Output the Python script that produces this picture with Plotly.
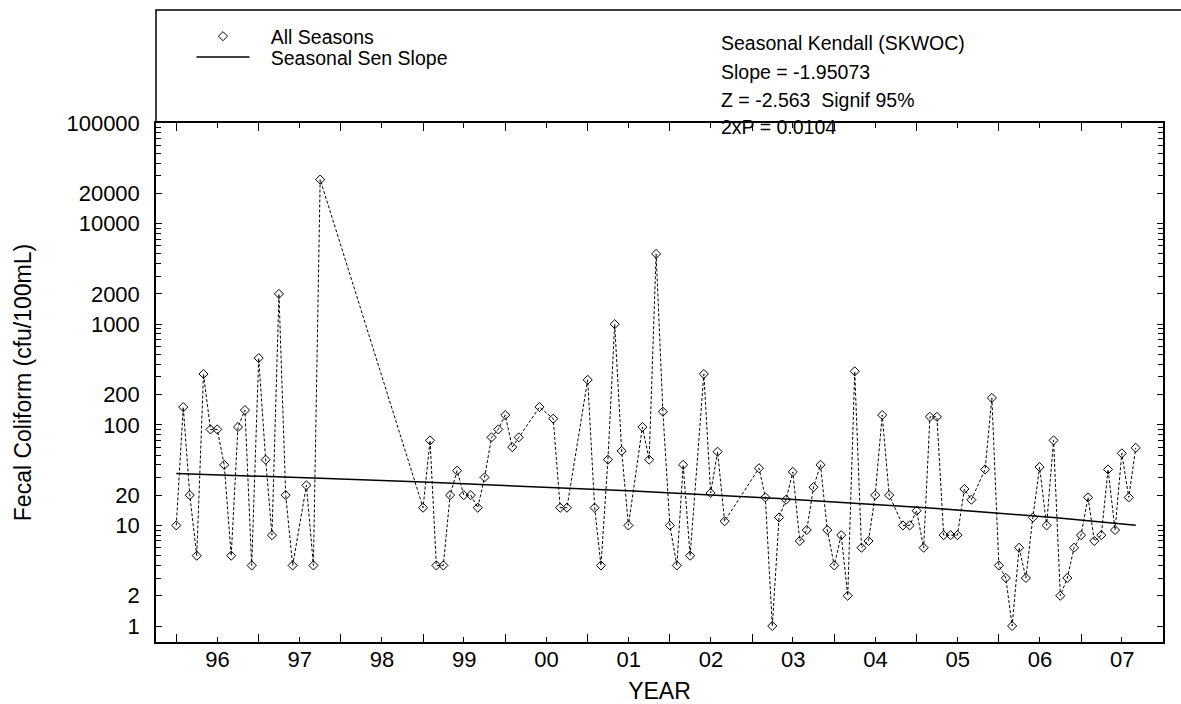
import plotly.graph_objects as go

# ---- data ----
sample_dates = [
    "1996-01-01", "1996-02-01", "1996-03-01", "1996-04-01", "1996-05-01", "1996-06-01",
    "1996-07-01", "1996-08-01", "1996-09-01", "1996-10-01", "1996-11-01", "1996-12-01",
    "1997-01-01", "1997-02-01", "1997-03-01", "1997-04-01", "1997-05-01", "1997-06-01",
    "1997-08-01", "1997-09-01", "1997-10-01",
    "1999-01-01", "1999-02-01", "1999-03-01", "1999-04-01", "1999-05-01", "1999-06-01",
    "1999-07-01", "1999-08-01", "1999-09-01", "1999-10-01", "1999-11-01", "1999-12-01",
    "2000-01-01", "2000-02-01", "2000-03-01", "2000-06-01", "2000-08-01", "2000-09-01",
    "2000-10-01",
    "2001-01-01", "2001-02-01", "2001-03-01", "2001-04-01", "2001-05-01", "2001-06-01",
    "2001-07-01", "2001-09-01", "2001-10-01", "2001-11-01", "2001-12-01",
    "2002-01-01", "2002-02-01", "2002-03-01", "2002-04-01", "2002-06-01", "2002-07-01",
    "2002-08-01", "2002-09-01",
    "2003-02-01", "2003-03-01", "2003-04-01", "2003-05-01", "2003-06-01", "2003-07-01",
    "2003-08-01", "2003-09-01", "2003-10-01", "2003-11-01", "2003-12-01",
    "2004-01-01", "2004-02-01", "2004-03-01", "2004-04-01", "2004-05-01", "2004-06-01",
    "2004-07-01", "2004-08-01", "2004-09-01", "2004-11-01", "2004-12-01",
    "2005-01-01", "2005-02-01", "2005-03-01", "2005-04-01", "2005-05-01", "2005-06-01",
    "2005-07-01", "2005-08-01", "2005-09-01", "2005-11-01", "2005-12-01",
    "2006-01-01", "2006-02-01", "2006-03-01", "2006-04-01", "2006-05-01", "2006-06-01",
    "2006-07-01", "2006-08-01", "2006-09-01", "2006-10-01", "2006-11-01", "2006-12-01",
    "2007-01-01", "2007-02-01", "2007-03-01", "2007-04-01", "2007-05-01", "2007-06-01",
    "2007-07-01", "2007-08-01", "2007-09-01",
]

fecal_coliform = [
    10, 150, 20, 5, 320, 90,
    90, 40, 5, 95, 140, 4,
    460, 45, 8, 2000, 20, 4,
    25, 4, 27400,
    15, 70, 4, 4, 20, 35,
    20, 20, 15, 30, 75, 90,
    125, 60, 75, 150, 115, 15,
    15,
    280, 15, 4, 45, 1000, 55,
    10, 95, 45, 5000, 135,
    10, 4, 40, 5, 320, 21,
    54, 11,
    37, 19, 1, 12, 18, 34,
    7, 9, 24, 40, 9,
    4, 8, 2, 340, 6, 7,
    20, 125, 20, 10, 10,
    14, 6, 120, 120, 8, 8,
    8, 23, 18, 36, 185,
    4, 3, 1, 6, 3, 12,
    38, 10, 70, 2, 3, 6,
    8, 19, 7, 8, 36, 9,
    52, 19, 59,
]

# Seasonal Kendall results (shown on the chart)
sen_slope = -1.95073          # cfu/100mL per year
sen_start_value = 32.8        # Sen line value at the first sample
stats_lines = [
    "Seasonal Kendall (SKWOC)",
    "Slope = -1.95073",
    "Z = -2.563  Signif 95%",
    "2xP = 0.0104",
]

y_tick_vals = [1, 2, 10, 20, 100, 200, 1000, 2000, 10000, 20000, 100000]
y_tick_text = ["1", "2", "10", "20", "100", "200", "1000", "2000", "10000", "20000", "100000"]
y_minor_vals = [m * 10 ** e for e in range(0, 5) for m in range(3, 10)] + [30000, 40000, 50000, 60000, 70000, 80000, 90000]
y_decades = [1, 10, 100, 1000, 10000, 100000]

x_range = ["1995-10-03", "2007-12-31"]
y_range = [-0.159, 5.0]


def dec_year(s):
    y, m, d = (int(p) for p in s.split("-"))
    return y + (m - 1) / 12.0 + (d - 1) / 365.0


t0 = dec_year(sample_dates[0])
sen_line = [sen_start_value + sen_slope * (dec_year(s) - t0) for s in sample_dates]

FONT = "Liberation Sans, Arial, sans-serif"
BLACK = "#000000"

fig = go.Figure()

# dashed connecting line
fig.add_trace(go.Scatter(
    x=sample_dates, y=fecal_coliform, mode="lines",
    line=dict(color=BLACK, width=1, dash="3px,2px"),
    showlegend=False, hoverinfo="skip",
))
# diamonds
fig.add_trace(go.Scatter(
    x=sample_dates, y=fecal_coliform, mode="markers",
    marker=dict(symbol="diamond-open", size=7, color=BLACK, line=dict(width=1, color=BLACK)),
    name="\u00a0\u00a0\u00a0All Seasons", legend="legend",
))
# Seasonal Sen slope
fig.add_trace(go.Scatter(
    x=sample_dates, y=sen_line, mode="lines",
    line=dict(color=BLACK, width=1.5),
    name="\u00a0\u00a0\u00a0Seasonal Sen Slope", legend="legend2",
))

L, R, T, B = 156, 18, 123, 62
W, H = 1181, 704
ph = H - T - B
pw = W - L - R


def py(ypx):
    return (H - B - ypx) / ph


def px(xpx):
    return (xpx - L) / pw


fig.update_layout(
    width=W, height=H,
    margin=dict(l=L, r=R, t=T, b=B, pad=0, autoexpand=False),
    paper_bgcolor="white", plot_bgcolor="white",
    font=dict(family=FONT, color=BLACK, size=19.5),
    xaxis=dict(
        type="date", range=x_range, tick0="1996-01-01", dtick="M12",
        tickformat="%y", ticklabelmode="period", automargin=False,
        ticks="inside", ticklen=8, tickwidth=1, tickcolor=BLACK,
        showline=True, linecolor=BLACK, linewidth=1.5, mirror="allticks",
        showgrid=False, zeroline=False,
        tickfont=dict(size=22, family=FONT),
        ticklabelstandoff=-3,
        minor=dict(tick0="1996-01-01", dtick="M6", ticks="inside", ticklen=5,
                   tickwidth=1, tickcolor=BLACK, showgrid=False),
        title=dict(text="YEAR", font=dict(size=23, family=FONT), standoff=14),
    ),
    xaxis2=dict(
        type="date", range=x_range, overlaying="x", anchor="y", side="bottom",
        tick0="1996-01-01", dtick="M12", ticks="outside", ticklen=3, automargin=False,
        tickwidth=1, tickcolor=BLACK, showticklabels=False,
        showline=False, mirror="allticks", showgrid=False, zeroline=False,
    ),
    yaxis=dict(
        type="log", range=y_range, tickmode="array", automargin=False,
        tickvals=y_tick_vals, ticktext=y_tick_text,
        ticks="inside", ticklen=6, tickwidth=1, tickcolor=BLACK,
        showline=True, linecolor=BLACK, linewidth=1.5, mirror="allticks",
        showgrid=False, zeroline=False,
        tickfont=dict(size=22, family=FONT),
        ticklabelstandoff=10,
        minor=dict(tickmode="array", tickvals=y_minor_vals, ticks="inside", ticklen=5,
                   tickwidth=1, tickcolor=BLACK, showgrid=False),
        title=dict(text="Fecal Coliform (cfu/100mL)", font=dict(size=23, family=FONT), standoff=28),
    ),
    yaxis2=dict(
        type="log", range=y_range, overlaying="y", anchor="x", side="left",
        tickmode="array", tickvals=y_decades, ticks="outside", ticklen=4, automargin=False,
        tickwidth=1, tickcolor=BLACK, showticklabels=False,
        showline=False, mirror="allticks", showgrid=False, zeroline=False,
    ),
    legend=dict(
        x=px(191.5), y=py(36.5), xanchor="left", yanchor="middle",
        bgcolor="rgba(0,0,0,0)", borderwidth=0, itemwidth=53,
        font=dict(size=19.5, family=FONT, color=BLACK),
    ),
    legend2=dict(
        x=px(191.5), y=py(57.3), xanchor="left", yanchor="middle",
        bgcolor="rgba(0,0,0,0)", borderwidth=0, itemwidth=53,
        font=dict(size=19.5, family=FONT, color=BLACK),
    ),
    shapes=[dict(
        type="path", xref="paper", yref="paper",
        path=f"M 0,1 L 0,{py(10):.4f} L 1.2,{py(10):.4f}",
        line=dict(color=BLACK, width=1.5),
    )],
)

stat_y = [43.3, 71.7, 100.0, 126.7]
for txt, yy in zip(stats_lines, stat_y):
    fig.add_annotation(
        text=txt, xref="paper", yref="paper", x=px(719), y=py(yy),
        xanchor="left", yanchor="middle", showarrow=False,
        font=dict(size=19.5, family=FONT, color=BLACK),
    )

fig.write_html("out.html")
